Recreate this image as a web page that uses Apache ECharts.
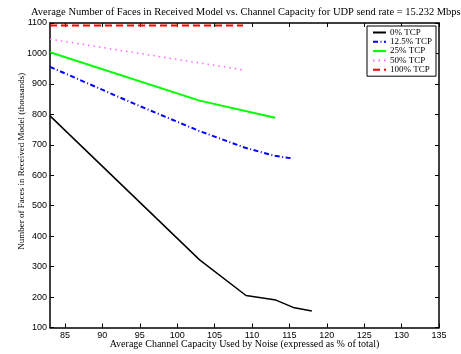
<!DOCTYPE html>
<html>
<head>
<meta charset="utf-8">
<script src="https://cdn.jsdelivr.net/npm/echarts@6/dist/echarts.min.js"></script>
<style>html,body{margin:0;padding:0;background:#fff}#c{width:461px;height:354px}</style>
</head>
<body>
<div id="c"></div>
<script>
var titleText = 'Average Number of Faces in Received Model vs. Channel Capacity for UDP send rate = 15.232 Mbps';
var xName = 'Average Channel Capacity Used by Noise (expressed as % of total)';
var yName = 'Number of Faces in Received Model (thousands)';
var seriesNames = ['0% TCP', '12.5% TCP', '25% TCP', '50% TCP', '100% TCP'];

var x0 = [83, 103, 109.2, 113.2, 115.5, 118];
var y0 = [795, 322, 205, 190, 166, 154];
var x125 = [83, 95, 103, 109, 113, 115.5];
var y125 = [956, 827, 745, 691, 664, 655];
var x25 = [83, 103, 113.1];
var y25 = [1004, 845, 789];
var x50 = [83, 108.8];
var y50 = [1047, 946];
var x100 = [83, 108.8];
var y100 = [1092, 1092];

var xMin = 83, xMax = 135, yMin = 100, yMax = 1100;

function zip(xs, ys) { return xs.map(function (x, i) { return [x, ys[i]]; }); }

var serif = '"Liberation Serif", "Times New Roman", serif';
var sans = '"Liberation Sans", Arial, sans-serif';

var chart = echarts.init(document.getElementById('c'), null, {renderer: 'canvas'});
var axisLine = {show: true, lineStyle: {color: '#000', width: 1.5}};
var tick = {show: true, inside: true, length: 4, lineStyle: {color: '#000', width: 1}};

chart.setOption({
  animation: false,
  backgroundColor: '#fff',
  title: {
    text: titleText, left: 31, top: 6, padding: 0,
    textStyle: {fontFamily: serif, fontSize: 10.5, fontWeight: 'normal', color: '#000', lineHeight: 12}
  },
  grid: {left: 50, right: 22, top: 23, bottom: 26.5, containLabel: false, outerBoundsMode: 'none'},
  legend: {
    orient: 'vertical', left: 367, top: 26,
    padding: [2, 4, 2, 5], itemGap: 0.3, itemWidth: 13, itemHeight: 9,
    backgroundColor: '#fff', borderColor: '#000', borderWidth: 1, borderRadius: 0,
    itemStyle: {opacity: 0},
    textStyle: {fontFamily: serif, fontSize: 9, color: '#000', padding: [0, 0, 0, -1]},
    data: seriesNames
  },
  xAxis: [{
    type: 'value', min: xMin, max: xMax, splitNumber: 10,
    name: xName, nameLocation: 'middle', nameGap: 11.5, nameMoveOverlap: false,
    nameTextStyle: {fontFamily: serif, fontSize: 10, color: '#000'},
    axisLine: axisLine, axisTick: tick, splitLine: {show: false},
    axisLabel: {fontFamily: sans, fontSize: 9, color: '#000', margin: 4, showMinLabel: false,
      formatter: function (v) { return v % 5 === 0 ? String(v) : ''; }}
  }, {
    type: 'value', min: xMin, max: xMax, splitNumber: 10, position: 'top',
    axisLine: axisLine, axisTick: tick, splitLine: {show: false}, axisLabel: {show: false}
  }],
  yAxis: [{
    type: 'value', min: yMin, max: yMax, interval: 100,
    name: yName, nameLocation: 'middle', nameGap: 24, nameMoveOverlap: false,
    nameTextStyle: {fontFamily: serif, fontSize: 9, color: '#000', padding: [0, 0, 0, 28]},
    axisLine: axisLine, axisTick: tick, splitLine: {show: false},
    axisLabel: {fontFamily: sans, fontSize: 9, color: '#000', margin: 3,
      formatter: function (v) { return String(v); }}
  }, {
    type: 'value', min: yMin, max: yMax, interval: 100, position: 'right',
    axisLine: axisLine, axisTick: tick, splitLine: {show: false}, axisLabel: {show: false}
  }],
  series: [
    {name: seriesNames[0], type: 'line', data: zip(x0, y0), symbol: 'none', color: '#000',
      lineStyle: {color: '#000', width: 1.5, type: 'solid'}},
    {name: seriesNames[1], type: 'line', data: zip(x125, y125), symbol: 'none', color: '#0000ff',
      lineStyle: {color: '#0000ff', width: 2, type: [5, 2.5, 1, 2.5]}},
    {name: seriesNames[2], type: 'line', data: zip(x25, y25), symbol: 'none', color: '#00ff00',
      lineStyle: {color: '#00ff00', width: 2, type: 'solid'}},
    {name: seriesNames[3], type: 'line', data: zip(x50, y50), symbol: 'none', color: '#ff66ff',
      lineStyle: {color: '#ff66ff', width: 1.5, type: [1.5, 4]}},
    {name: seriesNames[4], type: 'line', data: zip(x100, y100), symbol: 'none', color: '#ff0000',
      lineStyle: {color: '#ff0000', width: 2, type: [7, 4]}}
  ]
});
</script>
</body>
</html>
